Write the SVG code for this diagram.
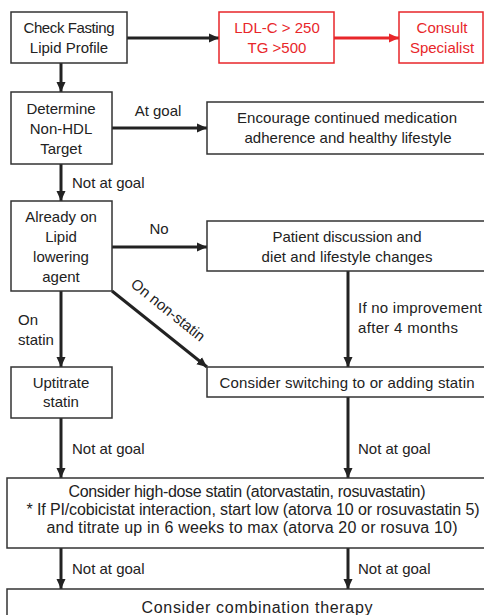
<svg xmlns="http://www.w3.org/2000/svg" width="484" height="615" viewBox="0 0 484 615">
<style>
.box{fill:#fff;stroke:#333;stroke-width:1.5}
.rbox{fill:#fff;stroke:#e8262a;stroke-width:1.5}
.t{font-family:"Liberation Sans",Arial,sans-serif;font-size:15px;fill:#222}
.b{font-size:16px}
.c{text-anchor:middle}
.r{fill:#e8262a}
.ln{stroke:#222;stroke-width:3;fill:none}
.rl{stroke:#e8262a;stroke-width:3;fill:none}
</style>
<defs>
<marker id="ah" markerUnits="userSpaceOnUse" markerWidth="10" markerHeight="10" viewBox="0 0 10 10" refX="10" refY="5" orient="auto">
<path d="M0,0.5 L10,5 L0,9.5 Z" fill="#222"/>
</marker>
<marker id="rah" markerUnits="userSpaceOnUse" markerWidth="10" markerHeight="10" viewBox="0 0 10 10" refX="10" refY="5" orient="auto">
<path d="M0,0.5 L10,5 L0,9.5 Z" fill="#e8262a"/>
</marker>
</defs>
<g id="connectors">
<line class="ln" x1="127" y1="38" x2="219" y2="38" marker-end="url(#ah)"/>
<line class="rl" x1="334" y1="38" x2="399" y2="38" marker-end="url(#rah)"/>
<line class="ln" x1="61" y1="63" x2="61" y2="92" marker-end="url(#ah)"/>
<line class="ln" x1="112" y1="128" x2="207" y2="128" marker-end="url(#ah)"/>
<line class="ln" x1="61" y1="164" x2="61" y2="201" marker-end="url(#ah)"/>
<line class="ln" x1="112" y1="247" x2="207" y2="247" marker-end="url(#ah)"/>
<line class="ln" x1="61" y1="291" x2="61" y2="367" marker-end="url(#ah)"/>
<line class="ln" x1="112" y1="291" x2="207" y2="367" marker-end="url(#ah)"/>
<line class="ln" x1="348" y1="271" x2="348" y2="367" marker-end="url(#ah)"/>
<line class="ln" x1="61" y1="418" x2="61" y2="478" marker-end="url(#ah)"/>
<line class="ln" x1="348" y1="397" x2="348" y2="478" marker-end="url(#ah)"/>
<line class="ln" x1="61" y1="548" x2="61" y2="589" marker-end="url(#ah)"/>
<line class="ln" x1="348" y1="548" x2="348" y2="589" marker-end="url(#ah)"/>
<text class="t c" x="158" y="116">At goal</text>
<text class="t" x="72" y="188">Not at goal</text>
<text class="t c" x="159" y="234">No</text>
<text class="t" x="358" y="313" textLength="124">If no improvement</text>
<text class="t" x="358" y="333" textLength="100">after 4 months</text>
<text class="t" x="18" y="325">On</text>
<text class="t" x="18" y="345">statin</text>
<text class="t c" transform="translate(165,314) rotate(38.7)">On non-statin</text>
<text class="t" x="72" y="454">Not at goal</text>
<text class="t" x="358" y="454">Not at goal</text>
<text class="t" x="72" y="574">Not at goal</text>
<text class="t" x="358" y="574">Not at goal</text>
</g>
<g id="check">
<rect class="box" x="11" y="12" width="116" height="51"/>
<text class="t c" x="69" y="33" textLength="91">Check Fasting</text>
<text class="t c" x="69" y="53">Lipid Profile</text>
</g>
<g id="ldl">
<rect class="rbox" x="219" y="12" width="115" height="51"/>
<text class="t c r" x="277" y="33">LDL-C &gt; 250</text>
<text class="t c r" x="277" y="53">TG &gt;500</text>
</g>
<g id="consult">
<rect class="rbox" x="399" y="12" width="84" height="51"/>
<text class="t c r" x="442" y="33">Consult</text>
<text class="t c r" x="442" y="53">Specialist</text>
</g>
<g id="determine">
<rect class="box" x="11" y="92" width="101" height="72"/>
<text class="t c" x="61" y="114">Determine</text>
<text class="t c" x="61" y="134">Non-HDL</text>
<text class="t c" x="61" y="154">Target</text>
</g>
<g id="encourage">
<rect class="box" x="207" y="102" width="280" height="52"/>
<text class="t c" x="347" y="123" textLength="220">Encourage continued medication</text>
<text class="t c" x="348" y="143" textLength="207">adherence and healthy lifestyle</text>
</g>
<g id="already">
<rect class="box" x="11" y="201" width="101" height="90"/>
<text class="t c" x="61" y="222">Already on</text>
<text class="t c" x="61" y="242">Lipid</text>
<text class="t c" x="61" y="262">lowering</text>
<text class="t c" x="61" y="282">agent</text>
</g>
<g id="patient">
<rect class="box" x="207" y="221" width="280" height="50"/>
<text class="t c" x="347" y="242" textLength="149">Patient discussion and</text>
<text class="t c" x="347" y="262" textLength="171">diet and lifestyle changes</text>
</g>
<g id="uptitrate">
<rect class="box" x="11" y="367" width="101" height="51"/>
<text class="t c" x="61" y="388">Uptitrate</text>
<text class="t c" x="61" y="407">statin</text>
</g>
<g id="switch">
<rect class="box" x="207" y="367" width="280" height="30"/>
<text class="t c" x="347" y="388" textLength="255">Consider switching to or adding statin</text>
</g>
<g id="highdose">
<rect class="box" x="7" y="478" width="480" height="70"/>
<text class="t b c" x="247" y="497" textLength="357">Consider high-dose statin (atorvastatin, rosuvastatin)</text>
<text class="t b c" x="253" y="515" textLength="453">* If PI/cobicistat interaction, start low (atorva 10 or rosuvastatin 5)</text>
<text class="t b c" x="252" y="533" textLength="411">and titrate up in 6 weeks to max (atorva 20 or rosuva 10)</text>
</g>
<g id="combination">
<rect class="box" x="7" y="589" width="480" height="40"/>
<text class="t b c" x="257" y="613" textLength="231">Consider combination therapy</text>
</g>
</svg>
